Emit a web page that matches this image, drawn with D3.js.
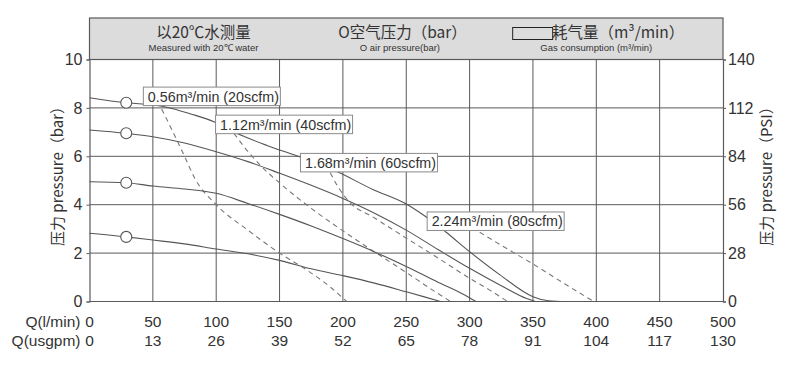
<!DOCTYPE html>
<html>
<head>
<meta charset="utf-8">
<script src="https://cdn.jsdelivr.net/npm/d3@7/dist/d3.min.js"></script>
<style>
  body { margin: 0; background: #fff; }
  text { font-family: "Liberation Sans", Arial, sans-serif; fill: #333; }
  .cjk { font-family: "Noto Sans CJK SC", "Liberation Sans", sans-serif; }
</style>
</head>
<body>
<div id="chart"></div>
<script>
// tick labels
const flowTicks = [0, 50, 100, 150, 200, 250, 300, 350, 400, 450, 500];
const gpmTicks = [0, 13, 26, 39, 52, 65, 78, 91, 104, 117, 130];
const barTicks = [0, 2, 4, 6, 8, 10];
const psiTicks = [0, 28, 56, 84, 112, 140];

// pump curves, [Q l/min, pressure bar]
const curve8 = [[0,8.42],[29,8.21],[45,8.15],[60,8.04],[80,7.75],[99,7.41],[115,6.98],[140,6.45],[162,6.05],[194,5.4],[224,4.62],[250,4.03],[265,3.52],[281,2.88],[300,2.06],[324,1.1],[350,0.2],[360,0.05],[372,0]];
const curve7 = [[0,7.09],[29,6.95],[50,6.81],[75,6.55],[100,6.19],[125,5.78],[150,5.3],[175,4.8],[200,4.26],[225,3.65],[250,2.95],[275,2.15],[300,1.37],[325,0.65],[345,0.12],[352,0]];
const curve5 = [[0,4.95],[29,4.91],[50,4.77],[75,4.65],[100,4.47],[125,4.05],[150,3.6],[175,3.12],[200,2.6],[225,2.05],[250,1.45],[275,0.8],[295,0.3],[305,0]];
const curve3 = [[0,2.82],[29,2.67],[50,2.54],[75,2.38],[100,2.17],[125,1.97],[150,1.7],[175,1.35],[200,1.07],[225,0.76],[250,0.4],[265,0.18],[277,0]];
const pumpCurves = [curve8, curve7, curve5, curve3];

// marked points on each pump curve
const markers = [[29,8.21],[29,6.95],[29,4.91],[29,2.67]];

// gas consumption lines
const gas056 = [[57,7.95],[65,7.1],[75,6.0],[83,5.1],[100,4.0],[125,2.95],[150,2.0],[170,1.35],[190,0.6],[203,0]];
const gas112 = [[114,6.95],[125,6.2],[135,5.62],[150,4.9],[175,3.85],[200,2.92],[225,2.05],[250,1.2],[270,0.5],[285,0]];
const gas168 = [[190,5.32],[196,4.75],[205,4.12],[225,3.45],[250,2.62],[275,1.8],[300,0.96],[315,0.5],[330,0]];
const gas224 = [[308,2.86],[325,2.32],[350,1.55],[375,0.73],[398,0]];
const gasCurves = [gas056, gas112, gas168, gas224];

// labels for gas lines: text and top-left corner in Q / bar
const gasLabels = ['0.56m³/min (20scfm)', '1.12m³/min (40scfm)', '1.68m³/min (60scfm)', '2.24m³/min (80scfm)'];
const gasLabelAt = [[42.5,8.86],[99.5,7.7],[166.5,6.12],[266.5,3.7]];

function draw() {
  const width = 802, height = 373;
  const margin = { top: 59.5, right: 79, bottom: 71.5, left: 89.5 };
  const innerW = width - margin.left - margin.right;
  const innerH = height - margin.top - margin.bottom;

  const svg = d3.select('#chart').append('svg')
    .attr('width', width)
    .attr('height', height);

  const g = svg.append('g')
    .attr('transform', 'translate(' + margin.left + ',' + margin.top + ')');

  const x = d3.scaleLinear().domain([0, 500]).range([0, innerW]);
  const y = d3.scaleLinear().domain([0, 10]).range([innerH, 0]);
  const yR = d3.scaleLinear().domain([0, 140]).range([innerH, 0]);

  const gridColor = '#5a5a5a';

  // header band
  const headH = 41.5;
  g.append('rect')
    .attr('x', 0).attr('y', -headH)
    .attr('width', innerW).attr('height', headH)
    .attr('fill', '#dcdcdc')
    .attr('stroke', gridColor).attr('stroke-width', 1.2);

  const head = g.append('g').attr('class', 'head');
  head.append('text').attr('class', 'cjk')
    .attr('x', x(90)).attr('y', -22).attr('text-anchor', 'middle')
    .style('font-size', '15.5px').text('以20℃水测量');
  head.append('text')
    .attr('x', x(90)).attr('y', -9).attr('text-anchor', 'middle')
    .style('font-size', '9.5px').text('Measured with 20℃ water');

  head.append('text').attr('class', 'cjk')
    .attr('x', x(247)).attr('y', -22).attr('text-anchor', 'middle')
    .style('font-size', '15.5px').text('O空气压力（bar）');
  head.append('text')
    .attr('x', x(245)).attr('y', -9).attr('text-anchor', 'middle')
    .style('font-size', '9.5px').text('O air pressure(bar)');

  head.append('rect')
    .attr('x', x(334)).attr('y', -32)
    .attr('width', 40).attr('height', 12)
    .attr('fill', 'none').attr('stroke', '#222').attr('stroke-width', 1);
  head.append('text').attr('class', 'cjk')
    .attr('x', x(365)).attr('y', -22)
    .style('font-size', '15.5px').text('耗气量（m³/min）');
  head.append('text')
    .attr('x', x(400)).attr('y', -9).attr('text-anchor', 'middle')
    .style('font-size', '9.5px').text('Gas consumption (m³/min)');

  // grid
  g.append('g').selectAll('line').data(flowTicks.slice(1, -1)).enter()
    .append('line')
      .attr('x1', d => x(d)).attr('x2', d => x(d))
      .attr('y1', 0).attr('y2', innerH)
      .attr('stroke', gridColor).attr('stroke-width', 1);
  g.append('g').selectAll('line').data(barTicks.slice(1, -1)).enter()
    .append('line')
      .attr('x1', 0).attr('x2', innerW)
      .attr('y1', d => y(d)).attr('y2', d => y(d))
      .attr('stroke', gridColor).attr('stroke-width', 1);

  // axes
  const leftAxis = g.append('g')
    .call(d3.axisLeft(y).tickValues(barTicks).tickSize(3).tickPadding(4));
  const rightAxis = g.append('g')
    .attr('transform', 'translate(' + innerW + ',0)')
    .call(d3.axisRight(yR).tickValues(psiTicks).tickSize(3).tickPadding(2));
  [leftAxis, rightAxis].forEach(a => {
    a.select('.domain').attr('stroke', gridColor).attr('stroke-width', 1.2);
    a.selectAll('.tick line').attr('stroke', gridColor);
    a.selectAll('.tick text')
      .style('font-family', '"Liberation Sans", Arial, sans-serif')
      .style('font-size', '16px').attr('fill', '#333');
  });
  g.append('line')
    .attr('x1', 0).attr('x2', innerW)
    .attr('y1', innerH).attr('y2', innerH)
    .attr('stroke', gridColor).attr('stroke-width', 1.2);

  // axis titles
  g.append('text').attr('class', 'cjk')
    .attr('transform', 'translate(-27,' + (innerH / 2 - 8) + ') rotate(-90)')
    .attr('text-anchor', 'middle')
    .style('font-size', '15px')
    .text('压力 pressure（bar）');
  g.append('text').attr('class', 'cjk')
    .attr('transform', 'translate(' + (innerW + 49) + ',' + (innerH / 2 - 8) + ') rotate(-90)')
    .attr('text-anchor', 'middle')
    .style('font-size', '15px')
    .text('压力 pressure（PSI）');

  // bottom tick labels, two rows
  const rows = [
    { name: 'Q(l/min)', ticks: flowTicks, dy: 25 },
    { name: 'Q(usgpm)', ticks: gpmTicks, dy: 44 }
  ];
  rows.forEach(r => {
    g.append('text')
      .attr('x', -9).attr('y', innerH + r.dy)
      .attr('text-anchor', 'end')
      .style('font-size', '15.5px').text(r.name);
    g.append('g').selectAll('text').data(r.ticks).enter()
      .append('text')
        .attr('x', (d, i) => i === 0 ? 0 : x(flowTicks[i]))
        .attr('y', innerH + r.dy)
        .attr('text-anchor', 'middle')
        .style('font-size', '15.5px')
        .text(d => d);
  });

  // gas consumption lines
  const line = d3.line()
    .x(d => x(d[0]))
    .y(d => y(d[1]))
    .curve(d3.curveMonotoneX);

  g.append('g').selectAll('path').data(gasCurves).enter()
    .append('path')
      .attr('d', line)
      .attr('fill', 'none')
      .attr('stroke', '#777')
      .attr('stroke-width', 1.1)
      .attr('stroke-dasharray', '5,4');

  // pump curves
  g.append('g').selectAll('path').data(pumpCurves).enter()
    .append('path')
      .attr('d', line)
      .attr('fill', 'none')
      .attr('stroke', '#555')
      .attr('stroke-width', 1.1);

  g.append('g').selectAll('circle').data(markers).enter()
    .append('circle')
      .attr('cx', d => x(d[0]))
      .attr('cy', d => y(d[1]))
      .attr('r', 5.5)
      .attr('fill', '#fff')
      .attr('stroke', '#555')
      .attr('stroke-width', 1.1);

  // labels on gas lines
  const lab = g.append('g').selectAll('g').data(gasLabels).enter()
    .append('g')
      .attr('transform', (d, i) => 'translate(' + x(gasLabelAt[i][0]) + ',' + y(gasLabelAt[i][1]) + ')');
  lab.append('rect')
    .attr('width', 137).attr('height', 18.5)
    .attr('fill', '#fff')
    .attr('stroke', '#8a8a8a').attr('stroke-width', 1);
  lab.append('text')
    .attr('x', 4.5).attr('y', 14.5)
    .style('font-size', '14.3px')
    .text(d => d);
}

draw();
</script>
</body>
</html>
